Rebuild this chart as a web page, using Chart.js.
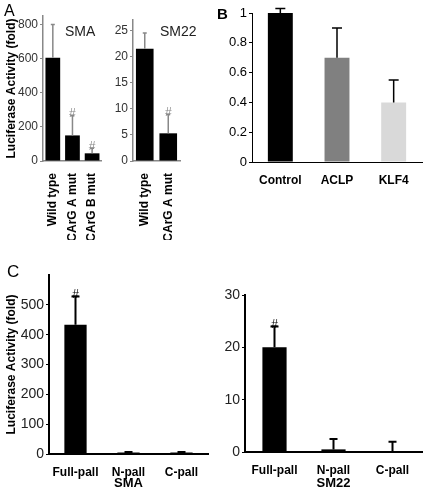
<!DOCTYPE html>
<html>
<head>
<meta charset="utf-8">
<script src="https://cdn.jsdelivr.net/npm/chart.js@4"></script>
<style>
  body { margin: 0; background: #fff; font-family: "Liberation Sans", Arial, sans-serif; }
  #page { position: relative; width: 425px; height: 491px; overflow: hidden; }
  .box { position: absolute; }
  .txt { position: absolute; line-height: 1; color: #000; white-space: nowrap; }
</style>
</head>
<body>
<div id="page">
  <div class="box" style="left:0px;top:0px"><canvas id="cA1" width="112" height="240"></canvas></div>
  <div class="box" style="left:112px;top:0px"><canvas id="cA2" width="78" height="240"></canvas></div>
  <div class="box" style="left:208px;top:0px"><canvas id="cB" width="217" height="195"></canvas></div>
  <div class="box" style="left:0px;top:258px"><canvas id="cC1" width="212" height="233"></canvas></div>
  <div class="box" style="left:212px;top:258px"><canvas id="cC2" width="213" height="233"></canvas></div>

  <div class="txt" style="left:4px;top:3px;font-size:16px">A</div>
  <div class="txt" style="left:217px;top:6px;font-size:15px;font-weight:bold">B</div>
  <div class="txt" style="left:7px;top:263px;font-size:17px">C</div>
  <div class="txt" style="left:65px;top:24px;font-size:14px;color:#222">SMA</div>
  <div class="txt" style="left:160px;top:24px;font-size:14px;color:#222">SM22</div>
</div>

<script>
// panel A - SMA
const smaLabels = ['Wild type', 'CArG A mut', 'CArG B mut'];
const smaValues = [605, 150, 45];
const smaErrors = [195, 115, 30];
const smaMarks = ['', '#', '#'];

// panel A - SM22
const sm22Labels = ['Wild type', 'CArG A mut'];
const sm22Values = [21.5, 5.3];
const sm22Errors = [3, 3.6];
const sm22Marks = ['', '#'];

// panel B
const bLabels = ['Control', 'ACLP', 'KLF4'];
const bValues = [1, 0.7, 0.4];
const bErrors = [0.03, 0.2, 0.15];

// panel C
const cLabels = ['Full-pall', 'N-pall', 'C-pall'];
const cSmaValues = [433, 5, 5];
const cSmaErrors = [95, 2, 2];
const cSmaMarks = ['#', '', ''];
const cSm22Values = [20, 0.5, 0.15];
const cSm22Errors = [4, 2, 1.8];
const cSm22Marks = ['#', '', ''];

Chart.defaults.font.family = '"Liberation Sans", Arial, sans-serif';
Chart.defaults.color = '#000';

// draws upward error bars and the '#' marks above them
const errorBars = {
    id: 'errorBars',
    afterDatasetsDraw(chart) {
        const ctx = chart.ctx;
        const ds = chart.data.datasets[0];
        const meta = chart.getDatasetMeta(0);
        const y = chart.scales.y;
        ctx.save();
        meta.data.forEach((bar, i) => {
            const err = ds.errors[i];
            const top = y.getPixelForValue(ds.data[i] + err);
            ctx.strokeStyle = ds.errColor;
            ctx.lineWidth = ds.errWidth;
            if (err > 0) {
                ctx.beginPath();
                ctx.moveTo(bar.x, bar.y);
                ctx.lineTo(bar.x, top);
                ctx.moveTo(bar.x - ds.capHalf, top);
                ctx.lineTo(bar.x + ds.capHalf, top);
                ctx.stroke();
            }
            if (ds.marks && ds.marks[i]) {
                ctx.fillStyle = ds.errColor;
                ctx.font = '12px "Liberation Sans", Arial, sans-serif';
                ctx.textAlign = 'center';
                ctx.textBaseline = 'bottom';
                ctx.fillText(ds.marks[i], bar.x, top + 4);
            }
        });
        ctx.restore();
    }
};

function tickText(v) {
    return Number.isInteger(v) ? String(v) : v.toFixed(1);
}

// box: page coords of the canvas and of the wanted plot area
function makeChart(id, box, cfg) {
    const ctx = document.getElementById(id).getContext('2d');
    return new Chart(ctx, {
        type: 'bar',
        data: {
            labels: cfg.labels,
            datasets: [{
                data: cfg.values,
                errors: cfg.errors,
                marks: cfg.marks,
                backgroundColor: cfg.colors || '#000',
                borderWidth: 0,
                barPercentage: cfg.barPct,
                categoryPercentage: 1,
                errColor: cfg.errColor,
                errWidth: cfg.errWidth,
                capHalf: cfg.capHalf
            }]
        },
        options: {
            responsive: false,
            animation: false,
            events: [],
            layout: {
                padding: {
                    left: 0,
                    top: box.areaT - box.top,
                    right: box.left + box.width - box.areaR,
                    bottom: 0
                }
            },
            plugins: { legend: { display: false }, tooltip: { enabled: false } },
            scales: {
                x: {
                    afterFit: s => { s.height = box.top + box.height - box.areaB; },
                    grid: { display: false },
                    border: { color: cfg.axisColor, width: cfg.axisWidth },
                    ticks: {
                        autoSkip: false,
                        minRotation: cfg.rotate ? 90 : 0,
                        maxRotation: cfg.rotate ? 90 : 0,
                        padding: cfg.rotate ? 4 : 3,
                        font: { size: 12, weight: 'bold' },
                        color: '#000'
                    },
                    title: cfg.xTitle ? {
                        display: true,
                        text: cfg.xTitle,
                        font: { size: 13, weight: 'bold' },
                        padding: { top: 1, bottom: 0 }
                    } : { display: false }
                },
                y: {
                    min: 0,
                    max: cfg.max,
                    afterFit: s => { s.width = box.areaL - box.left; },
                    afterBuildTicks: s => {
                        const t = [];
                        for (let k = 0; k * cfg.step <= cfg.lastTick + 1e-9; k++) {
                            t.push({ value: Math.round(k * cfg.step * 1000) / 1000 });
                        }
                        s.ticks = t;
                    },
                    grid: {
                        display: true,
                        drawOnChartArea: false,
                        drawTicks: true,
                        tickLength: 3,
                        color: cfg.axisColor,
                        lineWidth: 1
                    },
                    border: { color: cfg.axisColor, width: cfg.axisWidth },
                    ticks: {
                        stepSize: cfg.step,
                        padding: 2,
                        font: { size: cfg.tickSize },
                        color: cfg.tickColor,
                        callback: v => tickText(v)
                    },
                    title: cfg.yTitle ? {
                        display: true,
                        text: cfg.yTitle,
                        font: { size: 12, weight: 'bold' },
                        padding: { top: 4, bottom: 0 }
                    } : { display: false }
                }
            }
        },
        plugins: [errorBars]
    });
}

const yTitle = 'Luciferase Activity (fold)';

makeChart('cA1', { left: 0, top: 0, width: 112, height: 240, areaL: 43, areaT: 16, areaR: 103, areaB: 161 }, {
    labels: smaLabels, values: smaValues, errors: smaErrors, marks: smaMarks,
    max: 850, step: 200, lastTick: 800, barPct: 0.75, rotate: true,
    axisColor: '#888', axisWidth: 1.5, tickSize: 12, tickColor: '#333',
    errColor: '#888', errWidth: 1.5, capHalf: 2, yTitle: yTitle
});

makeChart('cA2', { left: 112, top: 0, width: 78, height: 240, areaL: 133, areaT: 20, areaR: 180, areaB: 161 }, {
    labels: sm22Labels, values: sm22Values, errors: sm22Errors, marks: sm22Marks,
    max: 27, step: 5, lastTick: 25, barPct: 0.75, rotate: true,
    axisColor: '#888', axisWidth: 1.5, tickSize: 12, tickColor: '#333',
    errColor: '#888', errWidth: 1.5, capHalf: 2
});

makeChart('cB', { left: 208, top: 0, width: 217, height: 195, areaL: 252, areaT: 13, areaR: 422, areaB: 162 }, {
    labels: bLabels, values: bValues, errors: bErrors,
    colors: ['#000', '#808080', '#d9d9d9'],
    max: 1, step: 0.2, lastTick: 1, barPct: 0.44, rotate: false,
    axisColor: '#000', axisWidth: 1, tickSize: 13, tickColor: '#000',
    errColor: '#000', errWidth: 1.5, capHalf: 5
});

makeChart('cC1', { left: 0, top: 258, width: 212, height: 233, areaL: 49, areaT: 275, areaR: 208, areaB: 454 }, {
    labels: cLabels, values: cSmaValues, errors: cSmaErrors, marks: cSmaMarks,
    max: 600, step: 100, lastTick: 500, barPct: 0.42, rotate: false,
    axisColor: '#000', axisWidth: 2, tickSize: 14, tickColor: '#222',
    errColor: '#000', errWidth: 2, capHalf: 4, yTitle: yTitle, xTitle: 'SMA'
});

makeChart('cC2', { left: 212, top: 258, width: 213, height: 233, areaL: 245, areaT: 295, areaR: 422, areaB: 452 }, {
    labels: cLabels, values: cSm22Values, errors: cSm22Errors, marks: cSm22Marks,
    max: 30, step: 10, lastTick: 30, barPct: 0.41, rotate: false,
    axisColor: '#000', axisWidth: 2, tickSize: 14, tickColor: '#222',
    errColor: '#000', errWidth: 2, capHalf: 4, xTitle: 'SM22'
});
</script>
</body>
</html>
